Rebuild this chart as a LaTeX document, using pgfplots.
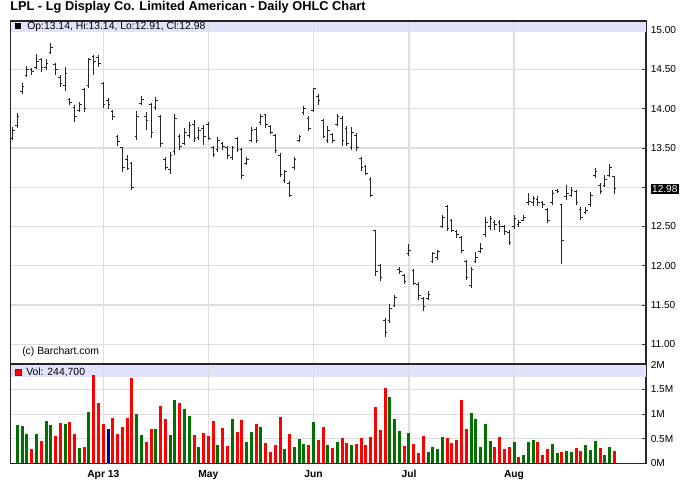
\documentclass[border=0pt]{standalone}
\usepackage{pgfplots}
\pgfplotsset{compat=1.18}
\usepackage{pgfplotstable}
\usepackage{fontspec}
\setmainfont{Liberation Sans}

\definecolor{vgreen}{RGB}{0,112,0}
\definecolor{vred}{RGB}{255,0,0}
\definecolor{vnavy}{RGB}{0,0,128}
\definecolor{bandc}{RGB}{226,226,250}
\definecolor{gridc}{RGB}{222,222,222}

\pgfdeclareplotmark{ohlcopen}{\pgfpathmoveto{\pgfqpoint{-1.6pt}{0pt}}\pgfpathlineto{\pgfqpoint{0pt}{0pt}}\pgfusepathqstroke}
\pgfdeclareplotmark{ohlcclose}{\pgfpathmoveto{\pgfqpoint{0pt}{0pt}}\pgfpathlineto{\pgfqpoint{1.6pt}{0pt}}\pgfusepathqstroke}

\pgfplotstableread{
i o h l c v col
0 13.62 13.77 13.60 13.72 0 0
1 13.78 13.95 13.75 13.90 0.78 1
2 14.22 14.32 14.18 14.28 0.76 1
3 14.42 14.54 14.40 14.50 0.60 1
4 14.50 14.52 14.43 14.47 0.29 2
5 14.52 14.70 14.50 14.60 0.60 1
6 14.62 14.65 14.46 14.52 0.46 2
7 14.52 14.63 14.49 14.58 0.86 1
8 14.72 14.83 14.70 14.78 0.78 1
9 14.56 14.58 14.43 14.50 0.55 2
10 14.40 14.43 14.28 14.32 0.82 2
11 14.30 14.53 14.23 14.45 0.80 1
12 14.12 14.13 14.04 14.08 0.84 2
13 14.02 14.04 13.83 13.90 0.60 2
14 13.98 14.09 13.96 14.05 0.31 1
15 14.24 14.26 13.96 14.00 0.33 2
16 14.30 14.64 14.26 14.63 1.05 1
17 14.66 14.68 14.43 14.60 1.79 2
18 14.65 14.68 14.53 14.57 1.22 2
19 14.32 14.34 14.01 14.05 0.80 2
20 14.10 14.13 14.00 14.05 0.69 3
21 13.96 13.98 13.85 13.90 0.93 2
22 13.64 13.66 13.52 13.58 0.60 2
23 13.50 13.51 13.19 13.25 0.73 2
24 13.35 13.41 13.22 13.24 0.93 2
25 13.30 13.32 12.97 13.00 1.73 2
26 13.65 13.97 13.60 13.90 1.00 1
27 14.06 14.16 14.04 14.12 0.57 1
28 13.90 13.96 13.73 13.85 0.44 2
29 14.05 14.07 13.62 13.70 0.69 2
30 14.02 14.15 13.98 14.10 0.69 1
31 13.90 13.92 13.51 13.55 1.16 2
32 13.35 13.39 13.22 13.25 0.90 2
33 13.22 13.45 13.17 13.40 0.57 1
34 13.45 13.93 13.41 13.88 1.29 1
35 13.65 13.68 13.47 13.52 1.22 2
36 13.56 13.75 13.54 13.70 1.10 1
37 13.66 13.83 13.62 13.78 0.97 1
38 13.80 13.85 13.58 13.62 0.57 2
39 13.63 13.77 13.60 13.72 0.33 1
40 13.75 13.79 13.54 13.65 0.62 2
41 13.80 13.83 13.60 13.62 0.56 2
42 13.50 13.53 13.39 13.42 0.86 2
43 13.48 13.64 13.45 13.60 0.37 1
44 13.56 13.58 13.47 13.52 0.71 2
45 13.50 13.52 13.36 13.40 0.35 2
46 13.38 13.53 13.35 13.50 0.90 1
47 13.62 13.64 13.45 13.48 0.64 2
48 13.48 13.50 13.11 13.15 0.88 2
49 13.30 13.39 13.28 13.35 0.44 1
50 13.60 13.76 13.58 13.72 0.64 1
51 13.74 13.77 13.56 13.60 0.80 2
52 13.82 13.93 13.79 13.90 0.73 1
53 13.92 13.93 13.75 13.80 0.41 2
54 13.77 13.79 13.68 13.70 0.23 2
55 13.66 13.68 13.44 13.47 0.37 2
56 13.40 13.43 13.13 13.16 0.94 2
57 13.08 13.22 13.05 13.20 0.29 1
58 13.05 13.08 12.88 12.90 0.60 2
59 13.25 13.39 13.22 13.35 0.33 1
60 13.60 13.67 13.58 13.64 0.50 1
61 13.95 14.03 13.92 14.00 0.39 1
62 13.88 13.90 13.72 13.75 0.37 2
63 13.98 14.26 13.96 14.25 0.84 1
64 14.15 14.18 14.04 14.10 0.48 2
65 13.85 13.87 13.62 13.65 0.73 2
66 13.60 13.78 13.56 13.72 0.37 1
67 13.67 13.69 13.56 13.60 0.31 2
68 13.80 13.93 13.78 13.90 0.44 1
69 13.88 13.90 13.52 13.60 0.52 2
70 13.75 13.78 13.52 13.55 0.41 2
71 13.50 13.77 13.47 13.70 0.37 1
72 13.66 13.69 13.46 13.50 0.39 2
73 13.36 13.39 13.20 13.25 0.52 2
74 13.26 13.28 13.15 13.18 0.37 2
75 13.10 13.13 12.88 12.90 0.54 2
76 12.45 12.45 11.87 11.93 1.14 2
77 12.00 12.02 11.81 11.85 0.67 2
78 11.30 11.33 11.09 11.15 1.54 2
79 11.30 11.51 11.27 11.45 1.35 1
80 11.50 11.63 11.48 11.60 0.90 1
81 11.95 11.98 11.90 11.93 0.66 1
82 11.87 11.89 11.77 11.80 0.35 2
83 12.15 12.28 12.12 12.20 0.62 1
84 11.94 11.96 11.76 11.78 0.39 2
85 11.76 11.79 11.57 11.62 0.21 2
86 11.58 11.60 11.42 11.48 0.56 2
87 11.58 11.68 11.56 11.64 0.23 1
88 12.05 12.18 12.03 12.15 0.33 1
89 12.10 12.20 12.07 12.18 0.29 1
90 12.50 12.64 12.48 12.62 0.54 1
91 12.75 12.77 12.44 12.48 0.52 2
92 12.58 12.60 12.43 12.45 0.41 2
93 12.44 12.45 12.35 12.40 0.48 2
94 12.36 12.38 12.16 12.20 1.29 2
95 12.05 12.07 11.82 11.85 0.69 2
96 11.75 11.99 11.72 11.95 1.02 1
97 12.05 12.18 12.03 12.10 0.90 1
98 12.18 12.29 12.16 12.22 0.33 1
99 12.40 12.62 12.36 12.55 0.80 1
100 12.50 12.63 12.45 12.60 0.46 1
101 12.55 12.58 12.45 12.52 0.33 2
102 12.55 12.58 12.43 12.50 0.54 2
103 12.50 12.52 12.39 12.44 0.29 2
104 12.42 12.45 12.26 12.30 0.33 2
105 12.50 12.64 12.47 12.60 0.44 1
106 12.52 12.58 12.49 12.55 0.13 2
107 12.58 12.64 12.57 12.62 0.17 1
108 12.80 12.92 12.77 12.82 0.44 1
109 12.80 12.89 12.76 12.86 0.48 1
110 12.84 12.89 12.76 12.80 0.44 2
111 12.80 12.83 12.74 12.78 0.17 2
112 12.72 12.73 12.55 12.58 0.29 2
113 12.80 12.97 12.77 12.92 0.39 1
114 12.96 12.98 12.92 12.95 0.21 1
115 12.78 12.79 12.02 12.32 0.23 2
116 12.88 13.03 12.84 12.92 0.25 1
117 12.90 13.00 12.88 12.96 0.23 1
118 12.95 12.97 12.77 12.80 0.31 2
119 12.72 12.75 12.58 12.62 0.25 2
120 12.68 12.75 12.66 12.70 0.37 1
121 12.78 12.94 12.75 12.90 0.27 1
122 13.15 13.24 13.12 13.20 0.46 1
123 13.02 13.05 12.91 12.95 0.31 2
124 13.02 13.15 13.00 13.10 0.17 1
125 13.15 13.30 13.13 13.25 0.33 1
126 13.14 13.14 12.91 12.98 0.245 2
}\ohlc

\begin{document}
\begin{tikzpicture}
\path[use as bounding box] (0,0) rectangle (516pt,377.25pt);
% ---------- price panel ----------
\begin{axis}[
  scale only axis,
  anchor=south west, at={(8.03pt,104.25pt)},
  width=476.5pt, height=257.25pt,
  xmin=-0.39, xmax=132.64, ymin=10.75, ymax=15.115,
  xtick={19,41,63,83,105}, xticklabels={},
  ytick={11,11.5,12,12.5,13,13.5,14,14.5,15},
  yticklabels={11.00,11.50,12.00,12.50,,13.50,14.00,14.50,15.00},
  ytick pos=right, yticklabel pos=right,
  tick align=inside, major tick length=3pt,
  xtick style={draw=none},
  ytick style={black!80, line width=0.6pt},
  grid=major, major grid style={gridc, line width=0.9pt},
  axis line style={black!85, line width=0.9pt},
  ticklabel style={font=\fontsize{7.6}{8}\selectfont},
]
\fill[bandc] (axis cs:-0.3,14.975) rectangle (axis cs:132.55,15.107);
\foreach \g in {19,41,63,83,105}{
  \edef\temp{\noexpand\draw[gridc, line width=0.9pt] (axis cs:\g,14.975) -- (axis cs:\g,15.107);}\temp
}
\addplot[draw=none, mark=none, forget plot,
  error bars/.cd, y dir=plus, y explicit, error mark=none,
  error bar style={draw=black!85, line width=0.75pt, solid}]
  table[x=i, y=l, y error plus expr=\thisrow{h}-\thisrow{l}] {\ohlc};
\addplot[only marks, mark=ohlcopen, mark options={black!85, line width=0.75pt}]
  table[x=i, y=o] {\ohlc};
\addplot[only marks, mark=ohlcclose, mark options={black!85, line width=0.75pt}]
  table[x=i, y=c] {\ohlc};
\end{axis}
% ---------- volume panel ----------
\begin{axis}[
  scale only axis,
  anchor=south west, at={(8.03pt,29.78pt)},
  width=476.5pt, height=74.48pt,
  xmin=-0.39, xmax=132.64, ymin=0, ymax=2.02,
  xtick={19,41,63,83,105}, xticklabels={Apr 13,May,Jun,Jul,Aug},
  xticklabel style={font=\bfseries\fontsize{7.7}{8}\selectfont, yshift=-1.8pt},
  ytick={0,0.5,1,1.5,2}, yticklabels={0M,0.5M,1M,1.5M,2M},
  ytick pos=right, yticklabel pos=right,
  tick align=inside, major tick length=3pt,
  xtick style={draw=none},
  ytick style={black!80, line width=0.6pt},
  grid=major, major grid style={gridc, line width=0.9pt},
  axis line style={black!85, line width=0.9pt},
  ticklabel style={font=\fontsize{7.6}{8}\selectfont},
]
\fill[bandc] (axis cs:-0.3,1.756) rectangle (axis cs:132.55,2.008);
\foreach \g in {19,41,63,83,105}{
  \edef\temp{\noexpand\draw[gridc, line width=0.9pt] (axis cs:\g,1.756) -- (axis cs:\g,2.008);}\temp
}
\addplot[ycomb, vgreen, line width=2.25pt] table[x=i, y expr={\thisrow{col}==1 ? \thisrow{v} : -1}] {\ohlc};
\addplot[ycomb, vred, line width=2.25pt] table[x=i, y expr={\thisrow{col}==2 ? \thisrow{v} : -1}] {\ohlc};
\addplot[ycomb, vnavy, line width=2.25pt] table[x=i, y expr={\thisrow{col}==3 ? \thisrow{v} : -1}] {\ohlc};
\end{axis}
% ---------- texts ----------
\node[anchor=base west, inner sep=0, font=\bfseries\fontsize{9.6}{11}\selectfont] at (7.5pt,369.5pt) {LPL - Lg Display Co. Limited American - Daily OHLC Chart};
\fill[black] (11.25pt,355.5pt) rectangle (15.5pt,359.8pt);
\node[anchor=base west, inner sep=0, font=\fontsize{7.8}{9}\selectfont] at (20.25pt,354.75pt) {Op:13.14, Hi:13.14, Lo:12.91, Cl:12.98};
\node[anchor=base west, inner sep=0, font=\fontsize{7.8}{9}\selectfont] at (16.5pt,111pt) {(c) Barchart.com};
\filldraw[fill=vred, draw=black!80, line width=0.5pt] (11.8pt,95.8pt) rectangle (16.3pt,100.3pt);
\node[anchor=base west, inner sep=0, font=\fontsize{7.8}{9}\selectfont] at (19.5pt,95.5pt) {Vol: 244,700};
\node[anchor=west, fill=black, text=white, inner xsep=1pt, inner ysep=1.2pt, font=\fontsize{7.6}{8}\selectfont] at (487.9pt,235.5pt) {12.98};
\end{tikzpicture}
\end{document}
